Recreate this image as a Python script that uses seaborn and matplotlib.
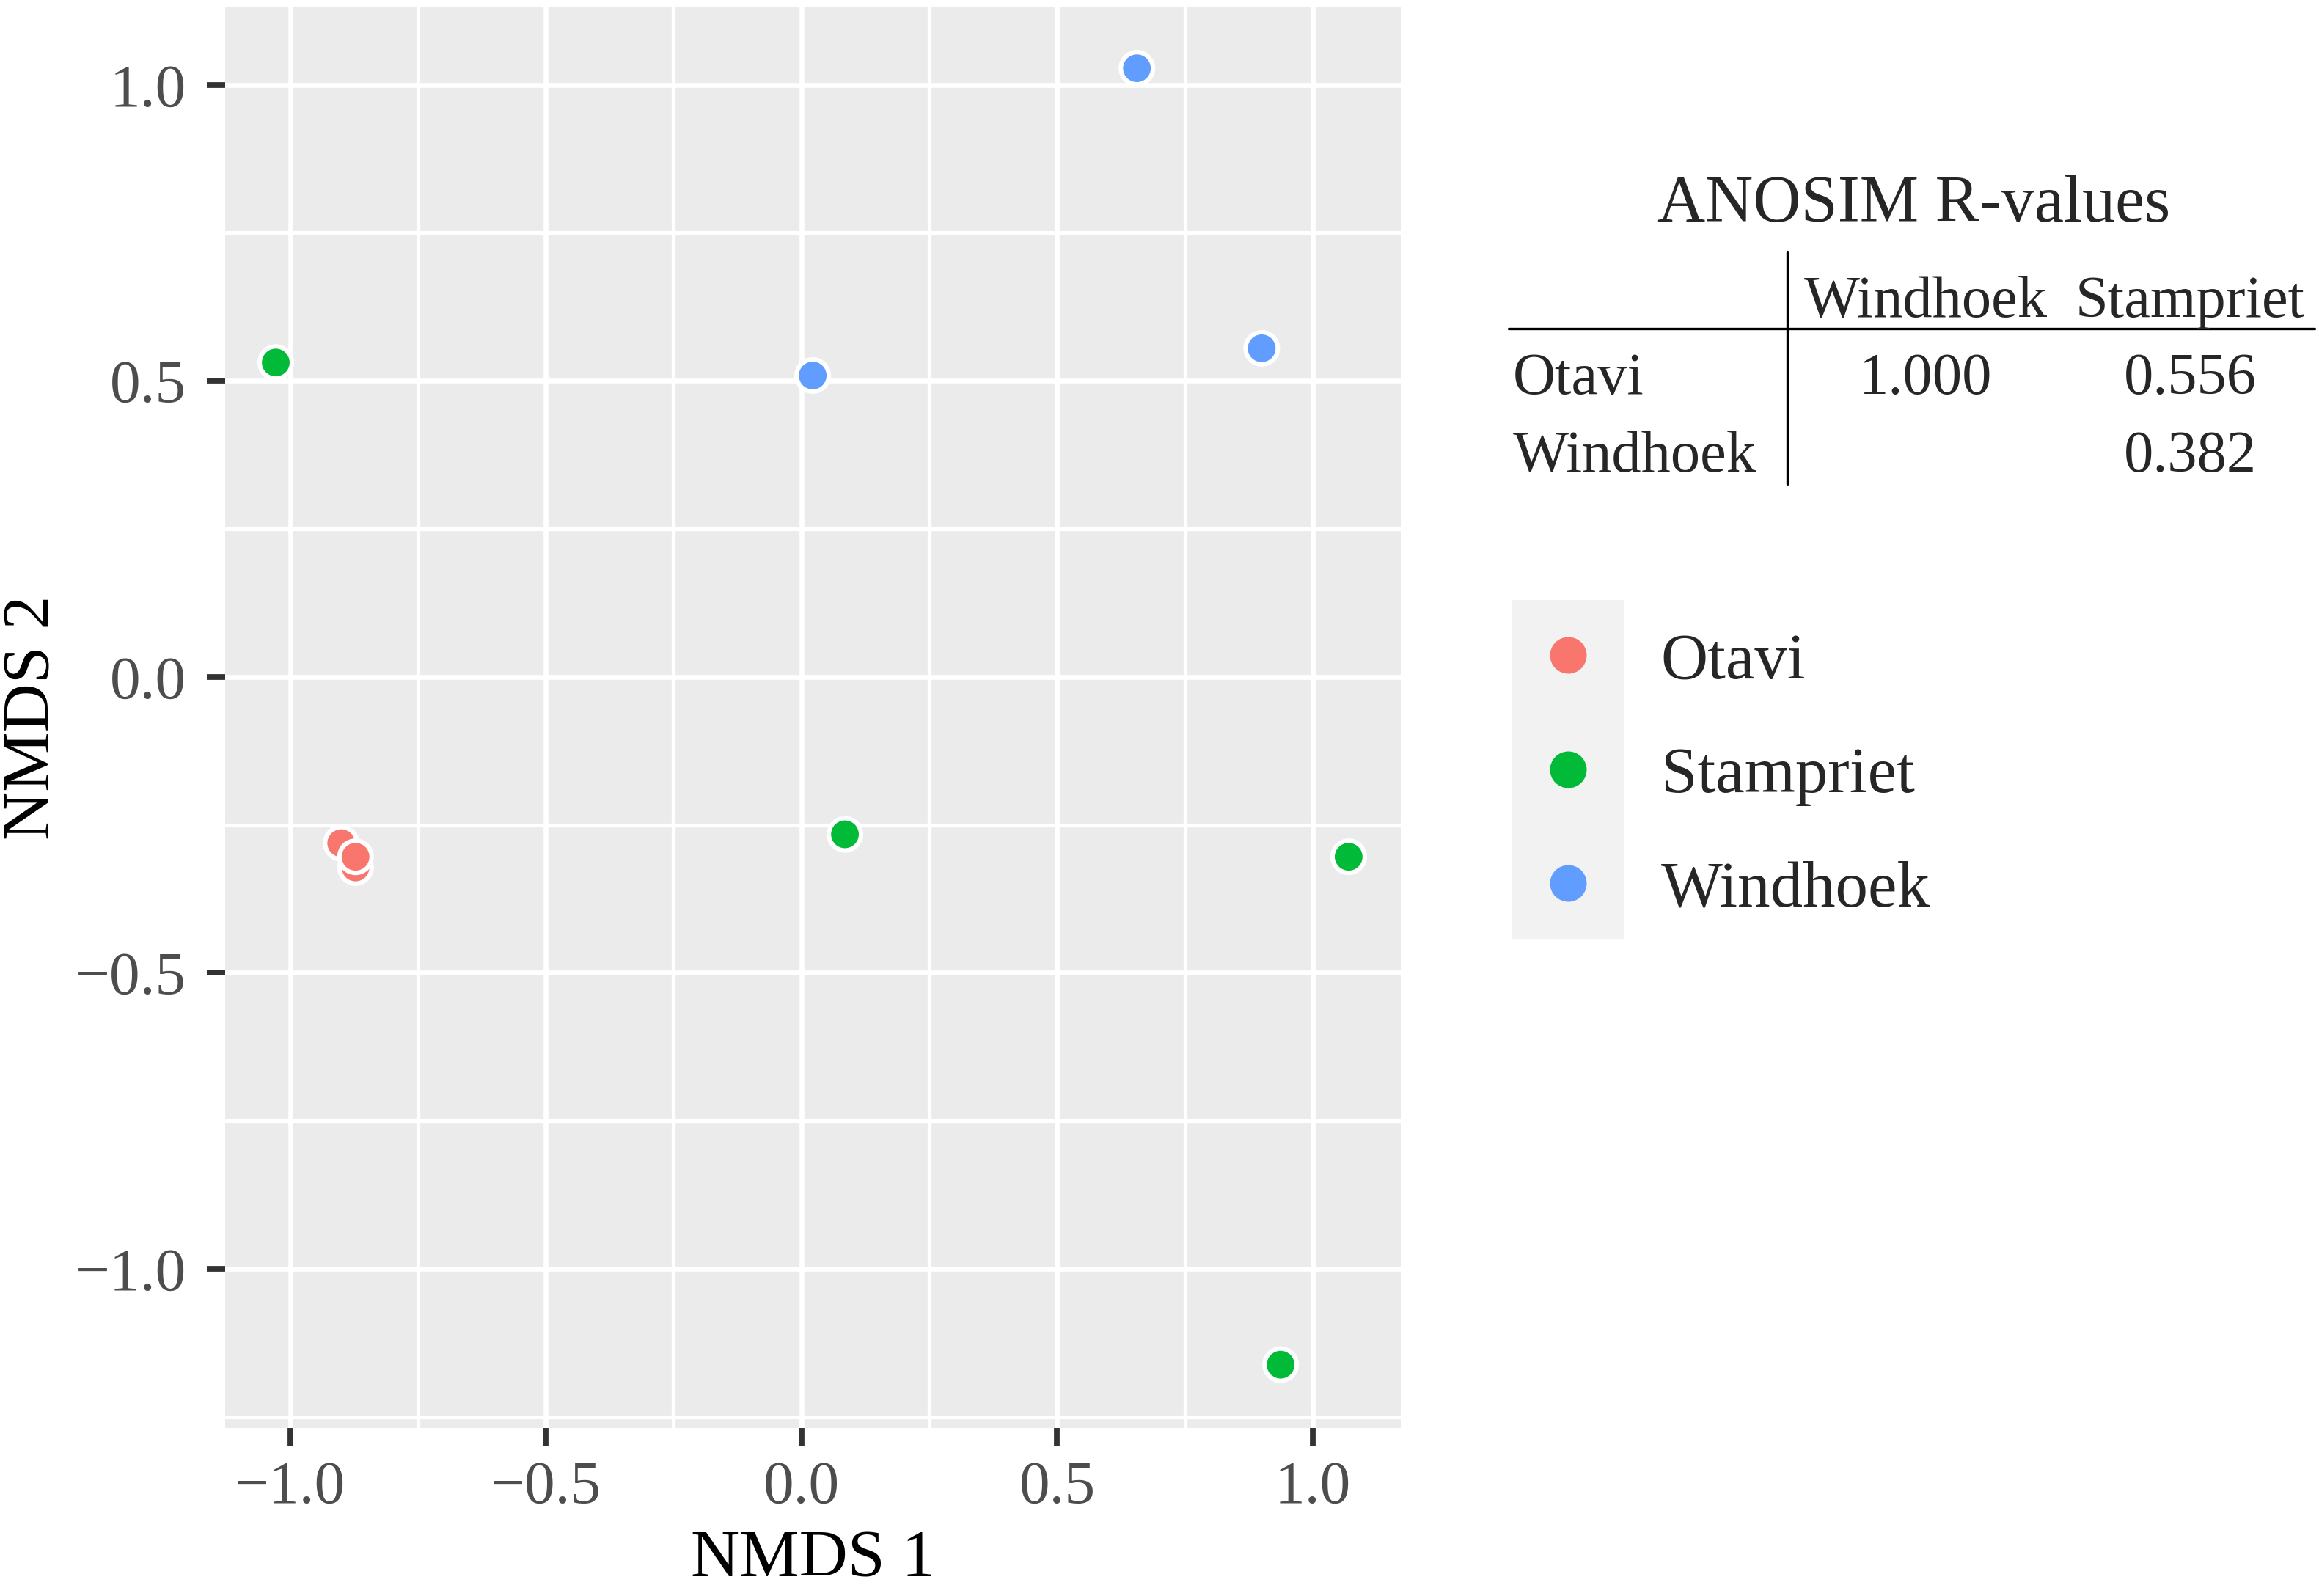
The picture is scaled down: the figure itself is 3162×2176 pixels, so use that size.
import numpy as np
import pandas as pd
import seaborn as sns
import matplotlib.pyplot as plt
from matplotlib.lines import Line2D
from matplotlib.patches import Rectangle

# NMDS coordinates
otavi_x = [-0.900, -0.872, -0.872]
otavi_y = [-0.281, -0.322, -0.304]
stampriet_x = [-1.028, 0.085, 1.070, 0.937]
stampriet_y = [0.531, -0.266, -0.304, -1.162]
windhoek_x = [0.656, 0.022, 0.900]
windhoek_y = [1.028, 0.509, 0.555]

sites = ["Otavi", "Stampriet", "Windhoek"]
site_colors = ["#F8766D", "#00BA38", "#619CFF"]

# ANOSIM R-values table
anosim_rows = ["Otavi", "Windhoek"]
anosim_cols = ["Windhoek", "Stampriet"]
anosim_vals = [["1.000", "0.556"], ["", "0.382"]]

x_ticks = [-1.0, -0.5, 0.0, 0.5, 1.0]
y_ticks = [-1.0, -0.5, 0.0, 0.5, 1.0]

df = pd.DataFrame({
    "NMDS1": otavi_x + stampriet_x + windhoek_x,
    "NMDS2": otavi_y + stampriet_y + windhoek_y,
    "site": ["Otavi"] * len(otavi_x) + ["Stampriet"] * len(stampriet_x)
            + ["Windhoek"] * len(windhoek_x),
})

sns.set_theme(style="darkgrid")
plt.rcParams["font.family"] = ["Liberation Serif", "DejaVu Serif"]

W, H = 3162, 2176
fig = plt.figure(figsize=(W / 200, H / 200), dpi=200)


def fx(px):
    return px / W


def fy(py):
    return 1 - py / H


# Panel
ax = fig.add_axes([fx(307), fy(1947), fx(1910) - fx(307), fy(10) - fy(1947)])
ax.set_facecolor("#EBEBEB")
sns.scatterplot(data=df, x="NMDS1", y="NMDS2", hue="site", hue_order=sites,
                palette=site_colors, s=250, edgecolor="white", linewidth=2.2,
                legend=False, ax=ax, zorder=3)

ax.set_xlim(-1.127, 1.172)
ax.set_ylim(-1.269, 1.131)
ax.set_xticks(x_ticks)
ax.set_yticks(y_ticks)
ax.set_xticks([-0.75, -0.25, 0.25, 0.75], minor=True)
ax.set_yticks([-1.25, -0.75, -0.25, 0.25, 0.75], minor=True)
ax.set_axisbelow(True)
ax.grid(which="major", color="white", linewidth=2.4)
ax.grid(which="minor", color="white", linewidth=1.9)
for sp in ax.spines.values():
    sp.set_visible(False)
ax.tick_params(which="major", bottom=True, left=True, length=9, width=2.8,
               color="#333333", labelcolor="#4D4D4D", labelsize=30)
ax.tick_params(axis="x", which="major", pad=7)
ax.tick_params(axis="y", which="major", pad=10)
ax.tick_params(which="minor", length=0)
ax.set_xlabel("NMDS 1", fontsize=33, labelpad=7, color="black")
ax.set_ylabel("NMDS 2", fontsize=33, labelpad=6, color="black")

# Legend with grey key background
key_bg = Rectangle((fx(2061), fy(1280)), fx(2215) - fx(2061), fy(818) - fy(1280),
                   transform=fig.transFigure, facecolor="#F2F2F2",
                   edgecolor="none", zorder=0)
fig.add_artist(key_bg)
handles = [Line2D([], [], marker="o", linestyle="none", markersize=18,
                  markerfacecolor=c, markeredgewidth=0) for c in site_colors]
fig.legend(handles, sites, loc="upper left", bbox_to_anchor=(fx(2094), fy(862)),
           frameon=False, fontsize=32, handlelength=1.0, handletextpad=0.92,
           labelspacing=0.835, borderpad=0, borderaxespad=0)

# ANOSIM table
fig.text(fx(2610), fy(302), "ANOSIM R-values", ha="center", va="baseline",
         fontsize=32.5)
col_centers = [2626, 2986]
row_baselines = [537, 643]
for col, cx in zip(anosim_cols, col_centers):
    fig.text(fx(cx), fy(432), col, ha="center", va="baseline", fontsize=29)
for row, vals, by in zip(anosim_rows, anosim_vals, row_baselines):
    fig.text(fx(2063), fy(by), row, ha="left", va="baseline", fontsize=29)
    for v, cx in zip(vals, col_centers):
        if v:
            fig.text(fx(cx), fy(by), v, ha="center", va="baseline", fontsize=29)
fig.add_artist(Line2D([fx(2057), fx(3156)], [fy(448), fy(448)],
                      transform=fig.transFigure, color="black", linewidth=1.2))
fig.add_artist(Line2D([fx(2437), fx(2437)], [fy(343), fy(660)],
                      transform=fig.transFigure, color="black", linewidth=1.2))

fig.savefig("out.png", dpi=200)
